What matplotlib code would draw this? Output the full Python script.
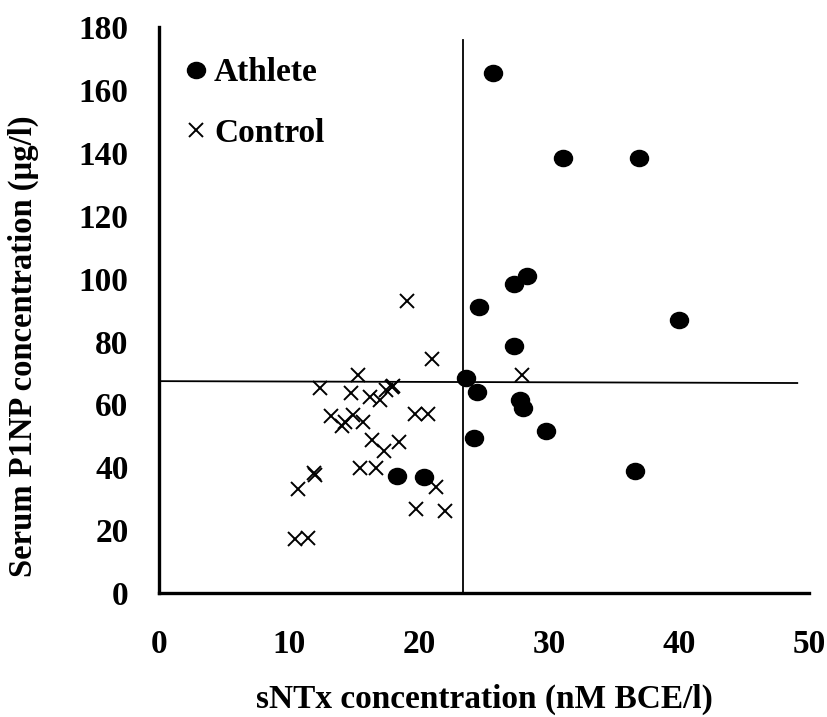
import matplotlib.pyplot as plt
from matplotlib.path import Path
from matplotlib.transforms import Affine2D

plt.rcParams['font.family'] = ['Liberation Serif', 'DejaVu Serif']
plt.rcParams['font.weight'] = 'bold'
plt.rcParams['axes.labelweight'] = 'bold'

# athlete group (sNTx, P1NP)
athlete_x = [25.7, 31.1, 36.9, 28.3, 27.3, 24.6, 40.0, 27.3, 23.6, 24.5,
             27.8, 28.0, 29.8, 24.2, 36.6, 20.4, 18.3]
athlete_y = [165.5, 138.5, 138.5, 101.0, 98.3, 91.0, 87.0, 78.7, 68.3, 64.0,
             61.4, 58.7, 51.5, 49.4, 38.9, 37.0, 37.3]

# control group
control_x = [19.1, 21.0, 15.3, 12.4, 14.8, 16.2, 17.0, 17.5, 17.9, 18.0,
             13.2, 14.3, 14.1, 14.9, 15.7, 19.7, 20.7, 16.4, 17.3, 18.5,
             15.5, 16.7, 12.0, 11.9, 10.7, 21.3, 19.8, 22.0, 10.5, 11.5, 27.9]
control_y = [93.0, 74.4, 69.4, 65.2, 63.7, 62.3, 61.4, 64.6, 65.4, 65.8,
             56.2, 54.5, 53.0, 56.6, 54.5, 57.0, 57.0, 48.7, 45.3, 48.0,
             39.7, 39.7, 37.5, 38.2, 33.0, 33.8, 26.6, 26.2, 17.1, 17.4, 69.3]

# reference lines
vline_x = 23.4
vline_top = 176
hline_x = [0, 49.1]
hline_y = [67.4, 66.8]

ellipse = Path.unit_circle().transformed(Affine2D().scale(1.12, 1.0))

fig = plt.figure(figsize=(8.28, 7.17), dpi=100)
ax = fig.add_axes([0.192, 0.173, 0.785, 0.789])

ax.plot(athlete_x, athlete_y, linestyle='none', marker=ellipse, ms=13,
        color='black', label='Athlete')
ax.plot(control_x, control_y, linestyle='none', marker='x', ms=10.5, mew=1.4,
        color='black', label='Control')

ax.plot([vline_x, vline_x], [0, vline_top], color='black', lw=1.3)
ax.plot(hline_x, hline_y, color='black', lw=1.3)

ax.set_xlim(0, 50)
ax.set_ylim(0, 180)
ax.set_xticks(range(0, 51, 10))
ax.set_yticks(range(0, 181, 20))
ax.tick_params(length=0, labelsize=24)
ax.tick_params(axis='x', pad=26)
ax.tick_params(axis='y', pad=22)

for s in ['top', 'right']:
    ax.spines[s].set_visible(False)
for s in ['left', 'bottom']:
    ax.spines[s].set_linewidth(2.4)

ax.set_xlabel('sNTx concentration (nM BCE/l)', fontsize=24, labelpad=17)
ax.set_ylabel('Serum P1NP concentration (\u00b5g/l)', fontsize=23.5)
ax.yaxis.set_label_coords(-0.185, 0.436)

ax.legend(loc='upper left', bbox_to_anchor=(0.041, 0.947), frameon=False,
          fontsize=24, handlelength=0.6, handletextpad=0.25,
          labelspacing=0.89, borderpad=0, borderaxespad=0)

fig.savefig('out.png', dpi=100)
